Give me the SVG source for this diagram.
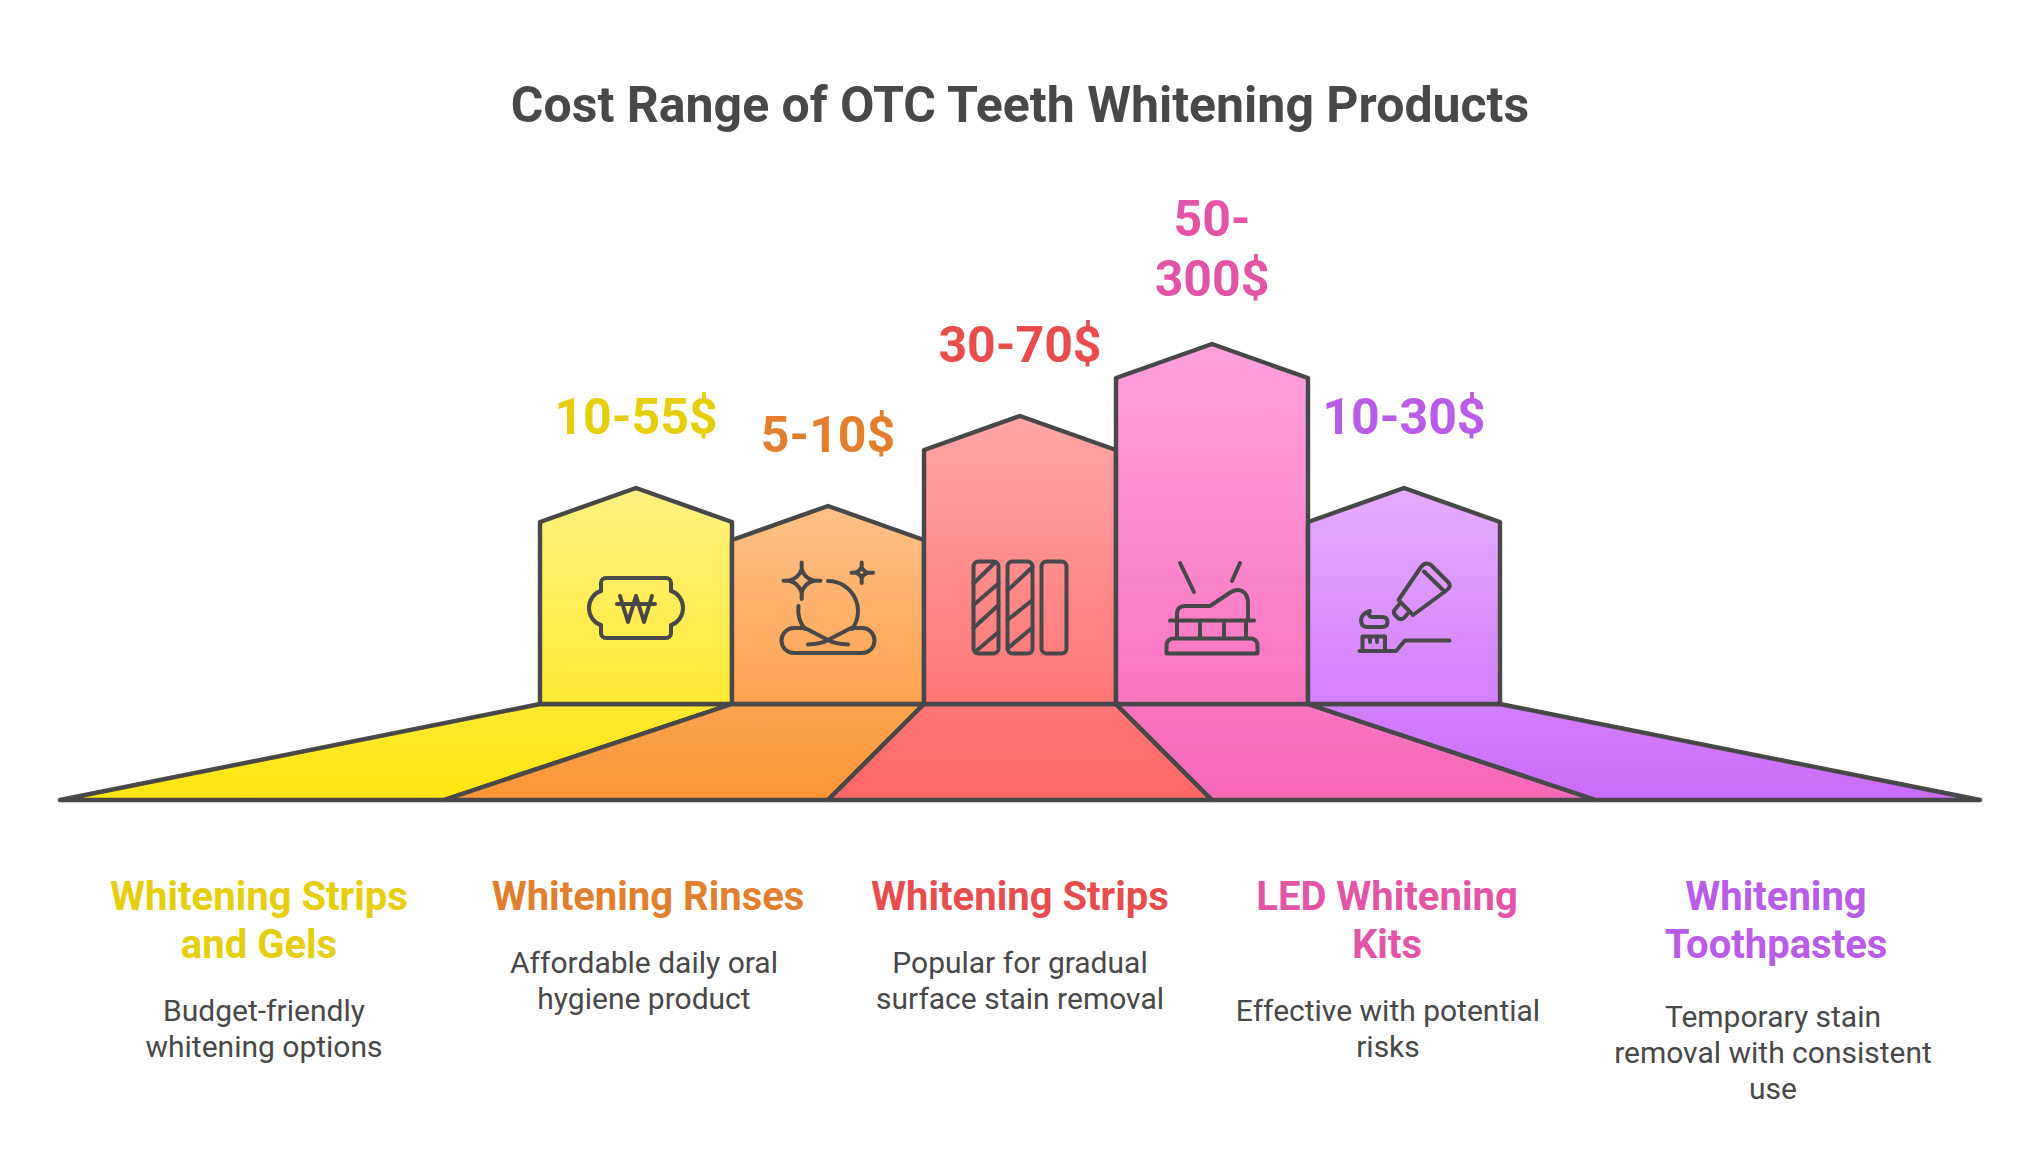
<svg xmlns="http://www.w3.org/2000/svg" width="2040" height="1168" viewBox="0 0 2040 1168">
<style>
text{font-family:Roboto,"Liberation Sans",sans-serif;text-anchor:middle}
.title{font-size:50px;font-weight:700;fill:#484848}
.val{font-size:50px;font-weight:700}
.head{font-size:40px;font-weight:700}
.desc{font-size:30px;font-weight:400;fill:#484848}
.shape{stroke:#484848;stroke-width:4.4;stroke-linejoin:round;stroke-linecap:round}
.icon{fill:none;stroke:#484848;stroke-width:4;stroke-linejoin:round;stroke-linecap:round}
.y{fill:#E5CE0C}.o{fill:#E17F2F}.r{fill:#E84D4D}.p{fill:#E255A5}.v{fill:#B95CE8}
</style>
<defs>
<linearGradient id="gy" gradientUnits="userSpaceOnUse" x1="0" y1="488" x2="0" y2="800"><stop offset="0" stop-color="#FFF182"/><stop offset="1" stop-color="#FFE60F"/></linearGradient>
<linearGradient id="go" gradientUnits="userSpaceOnUse" x1="0" y1="506" x2="0" y2="800"><stop offset="0" stop-color="#FFC087"/><stop offset="1" stop-color="#FB9535"/></linearGradient>
<linearGradient id="gr" gradientUnits="userSpaceOnUse" x1="0" y1="416" x2="0" y2="800"><stop offset="0" stop-color="#FFA6A6"/><stop offset="1" stop-color="#FF6666"/></linearGradient>
<linearGradient id="gp" gradientUnits="userSpaceOnUse" x1="0" y1="344" x2="0" y2="800"><stop offset="0" stop-color="#FFA2DA"/><stop offset="1" stop-color="#F768B8"/></linearGradient>
<linearGradient id="gv" gradientUnits="userSpaceOnUse" x1="0" y1="488" x2="0" y2="800"><stop offset="0" stop-color="#E6ACFF"/><stop offset="1" stop-color="#CA6CFB"/></linearGradient>
</defs>
<text class="title" x="1020" y="122">Cost Range of OTC Teeth Whitening Products</text>
<g id="connectors"></g>
<g id="node-strips-gels">
<polygon class="shape" fill="url(#gy)" points="60,800 540,704 732,704 444,800"/>
<polygon class="shape" fill="url(#gy)" points="540,704 540,522 636,488 732,522 732,704"/>
<path class="icon" d="M606 578H666a5 5 0 0 1 5 5V591C678 593 683 600 683 608C683 616 678 623 671 625V633a5 5 0 0 1-5 5H606a5 5 0 0 1-5-5V625C594 623 589 616 589 608C589 600 594 593 601 591V583a5 5 0 0 1 5-5Z"/>
<path class="icon" d="M620 596L628 622L636 596L644 622L652 596M617 604H655"/>
<text class="val y" x="636" y="434">10-55$</text>
<text class="head y" x="259" y="910">Whitening Strips</text>
<text class="head y" x="259" y="958">and Gels</text>
<text class="desc" x="264" y="1021">Budget-friendly</text>
<text class="desc" x="264" y="1057">whitening options</text>
</g>
<g id="node-rinses">
<polygon class="shape" fill="url(#go)" points="444,800 732,704 924,704 828,800"/>
<polygon class="shape" fill="url(#go)" points="732,704 732,540 828,506 924,540 924,704"/>
<path class="icon" d="M801.7 562.5V569Q804 578 814 580.7H820.5M814 580.7Q804 583 801.7 593V599M801.7 593Q799 583 789 580.7H783.5M789 580.7Q799 578 801.7 569"/>
<path class="icon" d="M861.7 562.5V567Q863 571 868 572.7H873M868 572.7Q863 574 861.7 578V583M861.7 578Q860 574 855.5 572.7H851.5M855.5 572.7Q860 571 861.7 567"/>
<path class="icon" d="M828 581A30 30 0 0 1 852 629M798.5 606A30 30 0 0 0 805 629"/>
<path class="icon" d="M805 628H794A12.5 12.5 0 0 0 794 653H862A12.5 12.5 0 0 0 862 628H851M805 628L828 640Q835 644 848 644.5M851 628L828 640Q821 644 808 644.5"/>
<text class="val o" x="828" y="452">5-10$</text>
<text class="head o" x="648" y="910">Whitening Rinses</text>
<text class="desc" x="644" y="973">Affordable daily oral</text>
<text class="desc" x="644" y="1009">hygiene product</text>
</g>
<g id="node-strips">
<polygon class="shape" fill="url(#gr)" points="828,800 924,704 1116,704 1212,800"/>
<polygon class="shape" fill="url(#gr)" points="924,704 924,450 1020,416 1116,450 1116,704"/>
<rect class="icon" x="973.5" y="561.5" width="25" height="92" rx="5"/>
<rect class="icon" x="1007.5" y="561.5" width="25" height="92" rx="5"/>
<rect class="icon" x="1041.5" y="561.5" width="25" height="92" rx="5"/>
<path class="icon" d="M973.5 583.5L995 562.5M973.5 605L998.5 583.5M973.5 628L998.5 605M975 652L998.5 632M1007.5 590.5L1032.5 567M1007.5 620L1032.5 600M1007.5 648.5L1032.5 627.5"/>
<text class="val r" x="1020" y="362">30-70$</text>
<text class="head r" x="1020" y="910">Whitening Strips</text>
<text class="desc" x="1020" y="973">Popular for gradual</text>
<text class="desc" x="1020" y="1009">surface stain removal</text>
</g>
<g id="node-led">
<polygon class="shape" fill="url(#gp)" points="1116,704 1308,704 1596,800 1212,800"/>
<polygon class="shape" fill="url(#gp)" points="1116,704 1116,378 1212,344 1308,378 1308,704"/>
<path class="icon" d="M1180 563L1194 592M1240 563L1232 581"/>
<path class="icon" d="M1177 620V614Q1177 606 1185 606H1210L1231 592C1240 587 1248 592 1248 603V620M1170 620.5H1254M1177 620.5V638M1200 620.5V638M1224 620.5V638M1246 620.5V638"/>
<path class="icon" d="M1166.5 653.5V646Q1166.5 638.5 1174 638.5H1250Q1257.5 638.5 1257.5 646V653.5Z"/>
<text class="val p" x="1212" y="236">50-</text>
<text class="val p" x="1212" y="296">300$</text>
<text class="head p" x="1387" y="910">LED Whitening</text>
<text class="head p" x="1387" y="958">Kits</text>
<text class="desc" x="1388" y="1021">Effective with potential</text>
<text class="desc" x="1388" y="1057">risks</text>
</g>
<g id="node-toothpastes">
<polygon class="shape" fill="url(#gv)" points="1308,704 1500,704 1980,800 1596,800"/>
<polygon class="shape" fill="url(#gv)" points="1308,704 1308,522 1404,488 1500,522 1500,704"/>
<path class="icon" d="M1398.5 600L1421 567Q1425 561 1431 565L1449 583Q1451 587 1447 590L1413 615ZM1424 571.5L1443 590"/>
<path class="icon" d="M1399 604.5L1394.5 610Q1393 613 1395 615L1398.5 618.5Q1401.5 620 1404 618L1409 612"/>
<path class="icon" d="M1370 611Q1361 614 1361 620Q1361 627 1368 627H1382Q1387.5 627 1387.5 622Q1387.5 617 1382 617H1372Q1367 616 1370 611Z"/>
<path class="icon" d="M1359.5 651H1396L1405 640.5H1449.5M1362.5 651V636.5H1385V651M1370 636.5V642M1377 636.5V642"/>
<text class="val v" x="1404" y="434">10-30$</text>
<text class="head v" x="1776" y="910">Whitening</text>
<text class="head v" x="1776" y="958">Toothpastes</text>
<text class="desc" x="1773" y="1027">Temporary stain</text>
<text class="desc" x="1773" y="1063">removal with consistent</text>
<text class="desc" x="1773" y="1099">use</text>
</g>
</svg>
